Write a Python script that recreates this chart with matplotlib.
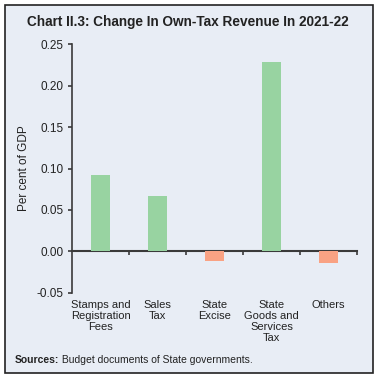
"""Chart II.3: change in own-tax revenue of states, 2021-22."""

import matplotlib

matplotlib.use("Agg")
import matplotlib.pyplot as plt  # noqa: E402
from matplotlib.patches import Rectangle  # noqa: E402

CATEGORIES = [
    "Stamps and\nRegistration\nFees",
    "Sales\nTax",
    "State\nExcise",
    "State\nGoods and\nServices\nTax",
    "Others",
]
VALUES = [0.092, 0.067, -0.012, 0.229, -0.014]
Y_TICKS = [-0.05, 0.00, 0.05, 0.10, 0.15, 0.20, 0.25]

GREEN = "#98d3a1"
SALMON = "#f9a283"
PANEL = "#e8edf5"
AXIS = "#3a3a3a"
TEXT = "#222222"

plt.rcParams["font.family"] = ["Liberation Sans", "DejaVu Sans"]

fig = plt.figure(figsize=(3.76, 3.78), dpi=100)
fig.patch.set_facecolor("white")
fig.patches.append(
    Rectangle((5 / 376, 5 / 378), 368 / 376, 368 / 378, transform=fig.transFigure,
              facecolor=PANEL, edgecolor="#222222", linewidth=1.2, zorder=-5)
)

ax = fig.add_axes([0.1915, 0.2257, 0.758, 0.6566])
ax.set_facecolor("none")

x = list(range(len(CATEGORIES)))
colors = [GREEN if v >= 0 else SALMON for v in VALUES]
ax.bar(x, VALUES, width=0.33, color=colors, zorder=2)

ax.set_xlim(-0.5, len(CATEGORIES) - 0.5)
ax.set_ylim(Y_TICKS[0], Y_TICKS[-1])
ax.set_yticks(Y_TICKS)
ax.set_yticklabels([f"{t:.2f}" for t in Y_TICKS], fontsize=8.5, color=TEXT)
ax.set_xticks(x)
ax.set_xticklabels(CATEGORIES, fontsize=8, color=TEXT, linespacing=1.15)
ax.tick_params(axis="x", length=0, pad=5)
ax.tick_params(axis="y", length=3, width=1.2, color=AXIS, pad=3)

for side in ("top", "right", "bottom"):
    ax.spines[side].set_visible(False)
ax.spines["left"].set_color(AXIS)
ax.spines["left"].set_linewidth(1.2)

# zero line with ticks at the category boundaries
ymin, ymax = ax.get_ylim()
zero = ax.secondary_xaxis((0 - ymin) / (ymax - ymin))
zero.set_xticks([i + 0.5 for i in x])
zero.set_xticklabels([])
zero.tick_params(length=3, width=1.2, color=AXIS, direction="out")
zero.spines["bottom"].set_color(AXIS)
zero.spines["bottom"].set_linewidth(1.5)

ax.set_ylabel("Per cent of GDP", fontsize=8.5, color=TEXT, labelpad=5)

fig.text(0.5, 0.942, "Chart II.3: Change In Own-Tax Revenue In 2021-22",
         ha="center", va="center", fontsize=9.8, fontweight="bold", color=TEXT)

src = fig.text(0.04, 0.047, "Sources:", ha="left", va="center", fontsize=7.5,
               fontweight="bold", color=TEXT)
fig.canvas.draw()
bb = src.get_window_extent()
fig.text(bb.x1 / fig.bbox.width, 0.047, " Budget documents of State governments.",
         ha="left", va="center", fontsize=7.5, color=TEXT)

fig.savefig("out.png", dpi=100)
